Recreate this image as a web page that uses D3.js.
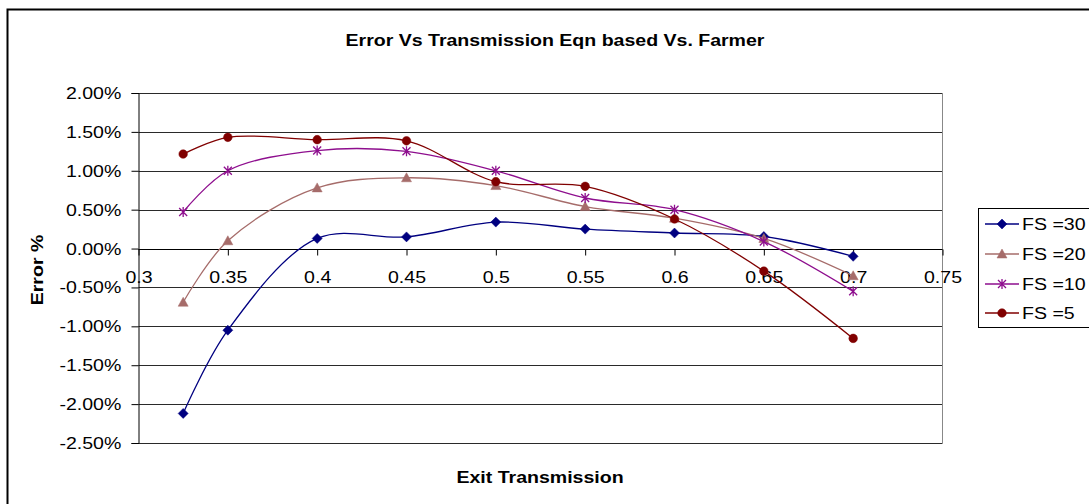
<!DOCTYPE html>
<html><head><meta charset="utf-8">
<script src="https://cdn.jsdelivr.net/npm/d3@7"></script>
<style>body{margin:0;background:#fff;} svg{display:block;font-family:"Liberation Sans",Arial,sans-serif;}</style>
</head><body><svg id="c" width="1089" height="504"></svg>
<script>
const xValues = [0.325, 0.35, 0.4, 0.45, 0.5, 0.55, 0.6, 0.65, 0.7];
const fs30 = [-2.12, -1.05, 0.13, 0.15, 0.34, 0.25, 0.20, 0.155, -0.10];
const fs20 = [-0.69, 0.10, 0.78, 0.91, 0.81, 0.54, 0.39, 0.13, -0.35];
const fs10 = [0.47, 1.00, 1.26, 1.25, 1.00, 0.65, 0.50, 0.09, -0.55];
const fs5  = [1.215, 1.43, 1.40, 1.385, 0.86, 0.80, 0.38, -0.29, -1.155];
const seriesNames = ["FS =30", "FS =20", "FS =10", "FS =5"];
const xTicks = [0.3, 0.35, 0.4, 0.45, 0.5, 0.55, 0.6, 0.65, 0.7, 0.75];
const yTicks = [2, 1.5, 1, 0.5, 0, -0.5, -1, -1.5, -2, -2.5];

const series = [
  {name: seriesNames[0], values: fs30, color: "#000080", marker: "diamond"},
  {name: seriesNames[1], values: fs20, color: "#A66C6A", marker: "triangle"},
  {name: seriesNames[2], values: fs10, color: "#8E0E8E", marker: "star"},
  {name: seriesNames[3], values: fs5,  color: "#800000", marker: "circle"}
];
const FS = 17, SX = 1.15;

const svg = d3.select("#c");
svg.append("rect").attr("x", 7.5).attr("y", 9.5).attr("width", 1200).attr("height", 600)
  .attr("fill", "#fff").attr("stroke", "#000").attr("stroke-width", 2);

const x = d3.scaleLinear().domain([0.3, 0.75]).range([138.5, 942.5]);
const y = d3.scaleLinear().domain([-2.5, 2]).range([443, 93]);

svg.append("g").selectAll("line").data(yTicks).join("line")
  .attr("x1", x(0.3)).attr("x2", x(0.75))
  .attr("y1", d => Math.round(y(d)) + 0.5).attr("y2", d => Math.round(y(d)) + 0.5)
  .attr("stroke", "#2a2a2a").attr("stroke-width", 1.2);
svg.append("line").attr("x1", x(0.75)).attr("x2", x(0.75)).attr("y1", y(2)).attr("y2", y(-2.5))
  .attr("stroke", "#888").attr("stroke-width", 1);

const hyph = s => s.replace("\u2212", "-");
const yAxis = d3.axisLeft(y).tickValues(yTicks).tickSize(7).tickPadding(8)
  .tickFormat(d => hyph(d3.format(".2f")(d)) + "%");
const gy = svg.append("g").attr("transform", `translate(${x(0.3)},0)`).call(yAxis);
gy.select(".domain").attr("stroke", "#000");
gy.selectAll(".tick line").attr("stroke", "#000");
gy.selectAll("text").attr("font-size", FS).attr("fill", "#000")
  .attr("font-family", "'Liberation Sans',Arial,sans-serif").attr("transform", `scale(${SX},1)`);

const xAxis = d3.axisBottom(x).tickValues(xTicks).tickSize(6).tickPadding(15)
  .tickFormat(d => String(d));
const gx = svg.append("g").attr("transform", `translate(0,${Math.round(y(0)) + 0.5})`).call(xAxis);
gx.select(".domain").attr("stroke", "#000").attr("d", `M${x(0.3)},0H${x(0.75)}`);
gx.selectAll(".tick line").attr("stroke", "#000");
gx.selectAll("text").attr("font-size", FS).attr("fill", "#000")
  .attr("font-family", "'Liberation Sans',Arial,sans-serif").attr("transform", `scale(${SX},1)`);

const line = d3.line().x((d, i) => x(xValues[i])).y(d => y(d)).curve(d3.curveCatmullRom.alpha(0.5));
const sym = {
  diamond: "M0,-5L5,0L0,5L-5,0Z",
  triangle: "M0,-5L5,4L-5,4Z",
  star: "M-4,-4L4,4M-4,4L4,-4M0,-5L0,5",
  circle: "M4.3,0A4.3,4.3 0 1,1 -4.3,0A4.3,4.3 0 1,1 4.3,0Z"
};
series.forEach(s => {
  svg.append("path").datum(s.values).attr("d", line)
    .attr("fill", "none").attr("stroke", s.color).attr("stroke-width", 1.3);
  svg.append("g").selectAll("path").data(s.values).join("path")
    .attr("transform", (d, i) => `translate(${x(xValues[i])},${y(d)})`)
    .attr("d", sym[s.marker])
    .attr("fill", s.marker === "star" ? "none" : s.color)
    .attr("stroke", s.color).attr("stroke-width", s.marker === "star" ? 1.3 : 0.5);
});

function label(cx, cy, txt, rot, bold) {
  svg.append("text")
    .attr("transform", `translate(${cx},${cy})` + (rot ? " rotate(-90)" : "") + ` scale(${SX},1)`)
    .attr("text-anchor", "middle").attr("font-size", FS)
    .attr("font-weight", bold ? "bold" : "normal").text(txt);
}
label(555, 46, "Error Vs Transmission Eqn based Vs. Farmer", false, true);
label(540, 483, "Exit Transmission", false, true);
svg.append("text").attr("transform", "translate(43,270) rotate(-90) scale(1.15,1)")
  .attr("text-anchor", "middle").attr("font-size", FS).attr("font-weight", "bold").text("Error %");

const lg = svg.append("g");
lg.append("rect").attr("x", 978.5).attr("y", 208.5).attr("width", 200).attr("height", 119)
  .attr("fill", "#fff").attr("stroke", "#000").attr("stroke-width", 1);
const legY = [224, 254, 284, 313];
series.forEach((s, i) => {
  lg.append("line").attr("x1", 985).attr("x2", 1019).attr("y1", legY[i]).attr("y2", legY[i])
    .attr("stroke", s.color).attr("stroke-width", 1.3);
  lg.append("path").attr("transform", `translate(1002,${legY[i]})`).attr("d", sym[s.marker])
    .attr("fill", s.marker === "star" ? "none" : s.color).attr("stroke", s.color)
    .attr("stroke-width", s.marker === "star" ? 1.3 : 0.5);
  lg.append("text").attr("transform", `translate(1022,${legY[i] + 6}) scale(${SX},1)`)
    .attr("font-size", FS).text(s.name);
});
</script></body></html>
